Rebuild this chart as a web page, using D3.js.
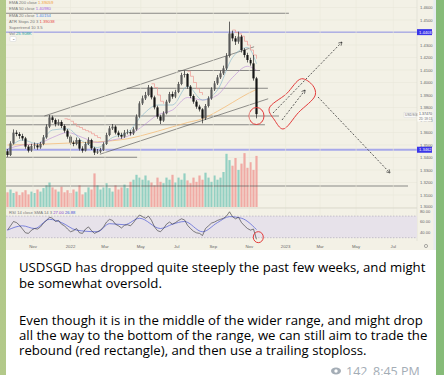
<!DOCTYPE html>
<html><head><meta charset="utf-8">
<script src="https://cdn.jsdelivr.net/npm/d3@7"></script>
<style>html,body{margin:0;padding:0;overflow:hidden;background:#9cc27d}</style>
</head><body><svg id="c" width="444" height="375"></svg>
<script>
// ---------- data ----------
const opens=[1.3450,1.3420,1.3513,1.3599,1.3588,1.3572,1.3553,1.3487,1.3455,1.3492,1.3497,1.3481,1.3508,1.3561,1.3647,1.3721,1.3700,1.3668,1.3684,1.3652,1.3615,1.3567,1.3519,1.3508,1.3540,1.3471,1.3455,1.3508,1.3540,1.3473,1.3439,1.3448,1.3460,1.3508,1.3580,1.3633,1.3647,1.3599,1.3580,1.3567,1.3599,1.3604,1.3593,1.3625,1.3727,1.3833,1.3873,1.3900,1.3961,1.3881,1.3801,1.3727,1.3695,1.3753,1.3847,1.3908,1.3887,1.3924,1.3988,1.4060,1.4068,1.3967,1.3892,1.3847,1.3807,1.3785,1.3713,1.3812,1.3873,1.3945,1.3993,1.4041,1.4073,1.4113,1.4212,1.4393,1.4353,1.4327,1.4367,1.4260,1.4220,1.4180,1.4153,1.4033];
const closes=[1.3420,1.3513,1.3599,1.3588,1.3572,1.3553,1.3487,1.3455,1.3492,1.3497,1.3481,1.3508,1.3561,1.3647,1.3721,1.3700,1.3668,1.3684,1.3652,1.3615,1.3567,1.3519,1.3508,1.3540,1.3471,1.3455,1.3508,1.3540,1.3473,1.3439,1.3448,1.3460,1.3508,1.3580,1.3633,1.3647,1.3599,1.3580,1.3567,1.3599,1.3604,1.3593,1.3625,1.3727,1.3833,1.3873,1.3900,1.3961,1.3881,1.3801,1.3727,1.3695,1.3753,1.3847,1.3908,1.3887,1.3924,1.3988,1.4060,1.4068,1.3967,1.3892,1.3847,1.3807,1.3785,1.3713,1.3812,1.3873,1.3945,1.3993,1.4041,1.4073,1.4113,1.4212,1.4393,1.4353,1.4327,1.4367,1.4260,1.4220,1.4180,1.4153,1.4033,1.3747];
const highs=[1.3468,1.3530,1.3625,1.3618,1.3603,1.3590,1.3565,1.3500,1.3510,1.3520,1.3512,1.3525,1.3580,1.3665,1.3740,1.3735,1.3712,1.3705,1.3698,1.3665,1.3628,1.3580,1.3535,1.3560,1.3552,1.3490,1.3525,1.3562,1.3550,1.3485,1.3468,1.3478,1.3522,1.3598,1.3652,1.3668,1.3658,1.3615,1.3598,1.3620,1.3625,1.3618,1.3642,1.3745,1.3850,1.3895,1.3925,1.3980,1.3972,1.3895,1.3815,1.3742,1.3770,1.3862,1.3925,1.3928,1.3942,1.4005,1.4078,1.4095,1.4075,1.3980,1.3905,1.3860,1.3822,1.3795,1.3828,1.3890,1.3962,1.4012,1.4060,1.4095,1.4135,1.4235,1.4487,1.4415,1.4372,1.4407,1.4380,1.4275,1.4238,1.4198,1.4220,1.4045];
const lows=[1.3405,1.3412,1.3505,1.3570,1.3550,1.3535,1.3470,1.3440,1.3445,1.3470,1.3462,1.3470,1.3498,1.3550,1.3635,1.3680,1.3648,1.3655,1.3635,1.3598,1.3550,1.3500,1.3490,1.3498,1.3455,1.3438,1.3448,1.3500,1.3460,1.3420,1.3428,1.3435,1.3452,1.3500,1.3570,1.3620,1.3585,1.3562,1.3550,1.3558,1.3585,1.3575,1.3580,1.3615,1.3718,1.3820,1.3860,1.3890,1.3865,1.3785,1.3710,1.3668,1.3685,1.3745,1.3835,1.3870,1.3875,1.3915,1.3978,1.4040,1.3950,1.3875,1.3830,1.3790,1.3768,1.3673,1.3700,1.3800,1.3862,1.3932,1.3980,1.4028,1.4060,1.4100,1.4200,1.4330,1.4300,1.4310,1.4240,1.4200,1.4160,1.4135,1.4015,1.3713];
const volumes=[21,25,20,22,17,21,24,18,22,20,25,22,27,31,35,28,25,22,29,21,24,20,25,22,31,18,21,28,25,48,31,25,28,34,27,22,31,25,28,32,27,36,39,46,42,39,45,38,35,31,42,36,34,42,39,46,35,42,39,48,38,34,42,36,45,39,49,42,36,45,39,42,50,76,67,59,70,53,62,77,56,64,53,73];
const rsi=[44,52,60,58,53,46,39,38,44,47,46,50,57,62,68,66,60,62,55,52,46,41,43,47,39,38,46,50,43,38,41,44,50,59,64,62,55,52,48,53,54,52,58,66,72,69,66,70,62,50,43,41,47,55,59,55,58,62,65,63,53,47,42,39,38,34,47,52,57,59,62,64,66,70,78,69,65,68,58,52,47,44,46,27];
const rsiSmaIdx=[0,5,9,14,18,23,30,34,39,44,51,55,59,65,70,74,78,83];
const rsiSma=[44,52,47,64,58,44,41,56,54,66,47,55,60,41,58,69,66,45];
const maIdx=[0,5,10,15,20,25,30,35,40,45,50,55,60,65,70,75,80,83];
const ema20=[1.3460,1.3540,1.3510,1.3620,1.3630,1.3530,1.3480,1.3560,1.3600,1.3740,1.3820,1.3820,1.3970,1.3860,1.3940,1.4200,1.4280,1.4150];
const ema50=[1.3470,1.3500,1.3510,1.3560,1.3600,1.3560,1.3520,1.3540,1.3570,1.3650,1.3740,1.3780,1.3880,1.3860,1.3900,1.4040,1.4130,1.4098];
const ema200Idx=[0,10,20,30,40,50,60,65,70,75,80,83];
const ema200=[1.3500,1.3505,1.3515,1.3525,1.3550,1.3610,1.3680,1.3710,1.3770,1.3840,1.3910,1.3945];
const stopSegments=[
  {start:19,vals:[1.3710,1.3705,1.3690,1.3670,1.3650,1.3640,1.3625,1.3615,1.3605,1.3590,1.3575,1.3560,1.3550]},
  {start:48,vals:[1.3990,1.3960,1.3900,1.3850,1.3830]},
  {start:60,vals:[1.4090,1.4050,1.4000,1.3950,1.3920,1.3900]},
  {start:75,vals:[1.4420,1.4400,1.4390,1.4370,1.4330,1.4300,1.4260,1.4220,1.4190]}
];
const priceTicks=[1.30,1.31,1.32,1.33,1.34,1.35,1.36,1.37,1.38,1.39,1.40,1.41,1.42,1.43,1.44,1.45,1.46];
const timeLabels=["Nov","2022","Mar","May","Jul","Sep","Nov","2023","Mar","May","Jul"];
const timeIdx=[8.5,21,32.5,44.4,56.4,68.6,80.6,92.7,104.2,116.2,128.6];
const rsiTicks=[80,60,40];
// drawn levels: price, start index, end index
const levelPrices=[1.4554,1.4096,1.3954,1.3732,1.3662,1.3402,1.3172];
const levelStart=[-1,56.8,39.8,-1,-1,-1,-1];
const levelEnd=[93.8,84.2,86.8,90.5,85.8,43.2,133.5];
const blueLevels=[1.4403,1.3462];
const channelUpper=[[12.3,1.3732],[82.2,1.4286]];
const channelLower=[[30.8,1.3426],[86.9,1.3870]];
const arrows=[[[88.5,1.3756],[111.5,1.4324]],[[91.5,1.3700],[99.2,1.3940]],[[103.5,1.3884],[127.5,1.3276]]];
const redBox=[[87.2,1.3790],[89.0,1.3700],[91.8,1.3628],[97,1.3760],[102.6,1.3900],[101.8,1.3975],[98,1.4030],[93,1.3910]];
const legendNames=["EMA 200 close","EMA 50 close","EMA 20 close","ATR Stops 20 3","Supertrend 10 3.5","Vol"];
const legendValues=["1.39059","1.40980","1.40154","1.39038","","25.908K"];
const legendColors=["#f29d38","#a45ee5","#4f84e8","#e84a4a","#999","#26a69a"];
const messageLines=["USDSGD has dropped quite steeply the past few weeks, and might","be somewhat oversold.","","Even though it is in the middle of the wider range, and might drop","all the way to the bottom of the range, we can still aim to trade the","rebound (red rectangle), and then use a trailing stoploss."];

// ---------- drawing ----------
const svg=d3.select("#c");
const defs=svg.append("defs");
const g=defs.append("linearGradient").attr("id","bg").attr("x1",0).attr("x2",1);
g.append("stop").attr("offset",0).attr("stop-color","#b3c98a");
g.append("stop").attr("offset",1).attr("stop-color","#86bb78");
svg.append("rect").attr("width",444).attr("height",375).attr("fill","url(#bg)");
svg.append("rect").attr("x",6).attr("y",0).attr("width",430).attr("height",380).attr("fill","#ffffff");
svg.append("rect").attr("x",6).attr("y",0).attr("width",430).attr("height",250).attr("fill","#f3f1e6");
defs.append("clipPath").attr("id","plot").append("rect").attr("x",6).attr("y",0).attr("width",411).attr("height",207.5);
defs.append("clipPath").attr("id","rsiclip").append("rect").attr("x",6).attr("y",208.5).attr("width",411).attr("height",32);

const x=d3.scaleLinear().domain([0,83]).range([7.5,256.5]);
const y=d3.scaleLinear().domain([1.30,1.45]).range([207.5,20]);
const yv=d3.scaleLinear().domain([0,80]).range([207,151]);
const yr=d3.scaleLinear().domain([40,80]).range([232.3,210.7]);

const plot=svg.append("g").attr("clip-path","url(#plot)");
plot.selectAll(".hg").data(priceTicks).join("line").attr("x1",6).attr("x2",417).attr("y1",d=>y(d)).attr("y2",d=>y(d)).attr("stroke","#e9e7da").attr("stroke-width",0.6);
svg.selectAll(".vg").data(timeIdx).join("line").attr("x1",d=>x(d)).attr("x2",d=>x(d)).attr("y1",0).attr("y2",241).attr("stroke","#e9e7da").attr("stroke-width",0.6);

const idx=d3.range(closes.length);
plot.selectAll(".vol").data(idx).join("rect")
  .attr("x",i=>x(i)-1.1).attr("width",2.2)
  .attr("y",i=>yv(volumes[i])).attr("height",i=>yv(0)-yv(volumes[i]))
  .attr("fill",i=>closes[i]>=opens[i]?"#93d0c2":"#f0aaa4");

plot.selectAll(".lvl").data(levelPrices).join("line")
  .attr("x1",(d,i)=>x(levelStart[i])).attr("x2",(d,i)=>x(levelEnd[i]))
  .attr("y1",d=>y(d)).attr("y2",d=>y(d)).attr("stroke","#5c5c5c").attr("stroke-width",0.7);
plot.selectAll(".blv").data(blueLevels).join("line")
  .attr("x1",6).attr("x2",417).attr("y1",d=>y(d)).attr("y2",d=>y(d))
  .attr("stroke",(d,i)=>i?"#a7a8ea":"#8d8fe6").attr("stroke-width",(d,i)=>i?1.8:1);
[channelUpper,channelLower].forEach(c=>{
  plot.append("line").attr("x1",x(c[0][0])).attr("y1",y(c[0][1])).attr("x2",x(c[1][0])).attr("y2",y(c[1][1])).attr("stroke","#4a4a4a").attr("stroke-width",0.6);
});

const lineIdx=(ix,vals)=>d3.line().x((d,i)=>x(ix[i])).y(d=>y(d)).curve(d3.curveMonotoneX)(vals);
plot.append("path").attr("d",lineIdx(ema200Idx,ema200)).attr("fill","none").attr("stroke","#f3b46a").attr("stroke-width",0.7);
plot.append("path").attr("d",lineIdx(maIdx,ema50)).attr("fill","none").attr("stroke","#b889d6").attr("stroke-width",0.6);
plot.append("path").attr("d",lineIdx(maIdx,ema20)).attr("fill","none").attr("stroke","#7fb3c9").attr("stroke-width",0.6);
stopSegments.forEach(s=>{
  plot.append("path").attr("d",d3.line().x((d,i)=>x(s.start+i)).y(d=>y(d)).curve(d3.curveStepAfter)(s.vals))
    .attr("fill","none").attr("stroke","#ee9a94").attr("stroke-width",0.7);
});

const cg=plot.selectAll(".cdl").data(idx).join("g");
cg.append("line").attr("x1",i=>x(i)).attr("x2",i=>x(i)).attr("y1",i=>y(highs[i])).attr("y2",i=>y(lows[i])).attr("stroke","#222").attr("stroke-width",0.7);
cg.append("rect").attr("x",i=>x(i)-1.1).attr("width",2.2)
  .attr("y",i=>y(Math.max(opens[i],closes[i])))
  .attr("height",i=>Math.max(0.6,Math.abs(y(opens[i])-y(closes[i]))))
  .attr("fill",i=>closes[i]>=opens[i]?"#5a5a5a":"#151515");

defs.append("marker").attr("id","ah").attr("viewBox","0 0 10 10").attr("refX",8).attr("refY",5)
  .attr("markerWidth",6).attr("markerHeight",6).attr("orient","auto")
  .append("path").attr("d","M1,1 L8,5 L1,9").attr("fill","none").attr("stroke","#333").attr("stroke-width",1.3);
arrows.forEach(a=>{
  plot.append("line").attr("x1",x(a[0][0])).attr("y1",y(a[0][1])).attr("x2",x(a[1][0])).attr("y2",y(a[1][1]))
    .attr("stroke","#333").attr("stroke-width",0.8).attr("stroke-dasharray","2,1.6").attr("marker-end","url(#ah)");
});
plot.append("path").attr("d",d3.line().x(d=>x(d[0])).y(d=>y(d[1])).curve(d3.curveCatmullRomClosed)(redBox))
  .attr("fill","none").attr("stroke","#e33b3b").attr("stroke-width",1);
plot.append("ellipse").attr("cx",x(83)).attr("cy",y(1.3732)).attr("rx",7.5).attr("ry",8.5)
  .attr("fill","none").attr("stroke","#e33b3b").attr("stroke-width",1);

svg.append("line").attr("x1",6).attr("x2",417).attr("y1",208).attr("y2",208).attr("stroke","#d6d4c8").attr("stroke-width",0.8);
svg.append("line").attr("x1",417).attr("x2",417).attr("y1",0).attr("y2",241).attr("stroke","#dcdad0").attr("stroke-width",0.6);

const rg=svg.append("g").attr("clip-path","url(#rsiclip)");
rg.append("rect").attr("x",6).attr("width",411).attr("y",yr(70)).attr("height",yr(30)-yr(70)).attr("fill","#e7e2ea");
rg.selectAll(".rl").data([70,30]).join("line").attr("x1",6).attr("x2",417).attr("y1",d=>yr(d)).attr("y2",d=>yr(d))
  .attr("stroke","#9a98a8").attr("stroke-width",0.5).attr("stroke-dasharray","1.5,1.5");
rg.append("path").attr("d",d3.line().x((d,i)=>x(rsiSmaIdx[i])).y(d=>yr(d)).curve(d3.curveMonotoneX)(rsiSma))
  .attr("fill","none").attr("stroke","#4e5ad6").attr("stroke-width",0.7);
rg.append("path").attr("d",d3.line().x((d,i)=>x(i)).y(d=>yr(d))(rsi))
  .attr("fill","none").attr("stroke","#333").attr("stroke-width",0.6);
svg.append("ellipse").attr("cx",x(83.6)).attr("cy",yr(31)).attr("rx",5).attr("ry",5.5)
  .attr("fill","none").attr("stroke","#e33b3b").attr("stroke-width",1);

const small="Liberation Sans, Arial, sans-serif";
svg.selectAll(".pt").data(priceTicks).join("text").attr("x",420).attr("y",d=>y(d)+(d===1.30?0.8:1.5))
  .text(d=>d.toFixed(4)).attr("font-family",small).attr("font-size",4.1).attr("fill","#666");
svg.selectAll(".rt").data(rsiTicks).join("text").attr("x",420).attr("y",d=>yr(d)+(d===80?2.4:1.5))
  .text(d=>d.toFixed(2)).attr("font-family",small).attr("font-size",4.1).attr("fill","#666");
svg.selectAll(".tl").data(timeLabels).join("text").attr("x",(d,i)=>x(timeIdx[i])).attr("y",247.5)
  .attr("text-anchor","middle").text(d=>d).attr("font-family",small).attr("font-size",4.3).attr("fill","#666");
svg.append("circle").attr("cx",426).attr("cy",246).attr("r",1.6).attr("fill","none").attr("stroke","#777").attr("stroke-width",0.6);
blueLevels.forEach(p=>{
  svg.append("rect").attr("x",417).attr("y",y(p)-3).attr("width",15).attr("height",6).attr("fill","#3b35e8");
  svg.append("text").attr("x",419).attr("y",y(p)+1.6).text(p.toFixed(4)).attr("font-family",small).attr("font-size",4.1).attr("fill","#fff");
});
svg.append("rect").attr("x",404).attr("y",112.5).attr("width",12).attr("height",5).attr("fill","#f8f8f8").attr("stroke","#ccc").attr("stroke-width",0.3);
svg.append("text").attr("x",405).attr("y",116.3).text("USDSGD").attr("font-family",small).attr("font-size",3.4).attr("fill","#777");
svg.append("rect").attr("x",417.5).attr("y",111.5).attr("width",14).attr("height",10).attr("fill","#fbfbf8");
svg.append("text").attr("x",419).attr("y",115.3).text(closes[83].toFixed(5)).attr("font-family",small).attr("font-size",3.6).attr("fill","#555");
svg.append("text").attr("x",419).attr("y",119.6).text("2D 18:13").attr("font-family",small).attr("font-size",3.3).attr("fill","#777");

const lg=svg.append("g").attr("font-family",small).attr("font-size",4.2);
legendNames.forEach((n,i)=>{
  const t=lg.append("text").attr("x",9).attr("y",4.3+i*6.1);
  t.append("tspan").text(n+" ").attr("fill","#777");
  t.append("tspan").text(legendValues[i]).attr("fill",legendColors[i]);
});
lg.append("rect").attr("x",10).attr("y",36.5).attr("width",6).attr("height",5).attr("rx",1).attr("fill","#fff").attr("stroke","#ccc").attr("stroke-width",0.4);
lg.append("text").attr("x",13).attr("y",40.3).attr("text-anchor","middle").text("⌄").attr("font-size",4).attr("fill","#555");
const rl=lg.append("text").attr("x",9).attr("y",213.8);
rl.append("tspan").text("RSI 14 close SMA 14 3 ").attr("fill","#777");
rl.append("tspan").text(rsi[83].toFixed(2)+" ").attr("fill","#8a3fd1");
rl.append("tspan").text("26.88").attr("fill","#3d4fd8");

svg.append("rect").attr("x",433.5).attr("y",0).attr("width",2.5).attr("height",250).attr("fill","#e6ecf0");

const tf="'Open Sans', 'Noto Sans', sans-serif";
const baselines=[272,287.5,0,325,340,355];
svg.selectAll(".msg").data(messageLines).join("text").attr("x",19).attr("y",(d,i)=>baselines[i])
  .text(d=>d).attr("font-family",tf).attr("font-size",13.2).attr("fill","#000");
const eye=svg.append("g").attr("transform","translate(336,371)");
eye.append("ellipse").attr("rx",5).attr("ry",3.4).attr("fill","#a4adb6");
eye.append("circle").attr("r",1.7).attr("fill","#fff");
svg.append("text").attr("x",346).attr("y",376).text("142").attr("font-family",tf).attr("font-size",12.5).attr("fill","#a4adb6");
svg.append("text").attr("x",373).attr("y",376).text("8:45 PM").attr("font-family",tf).attr("font-size",12.5).attr("fill","#a4adb6");
</script></body></html>
